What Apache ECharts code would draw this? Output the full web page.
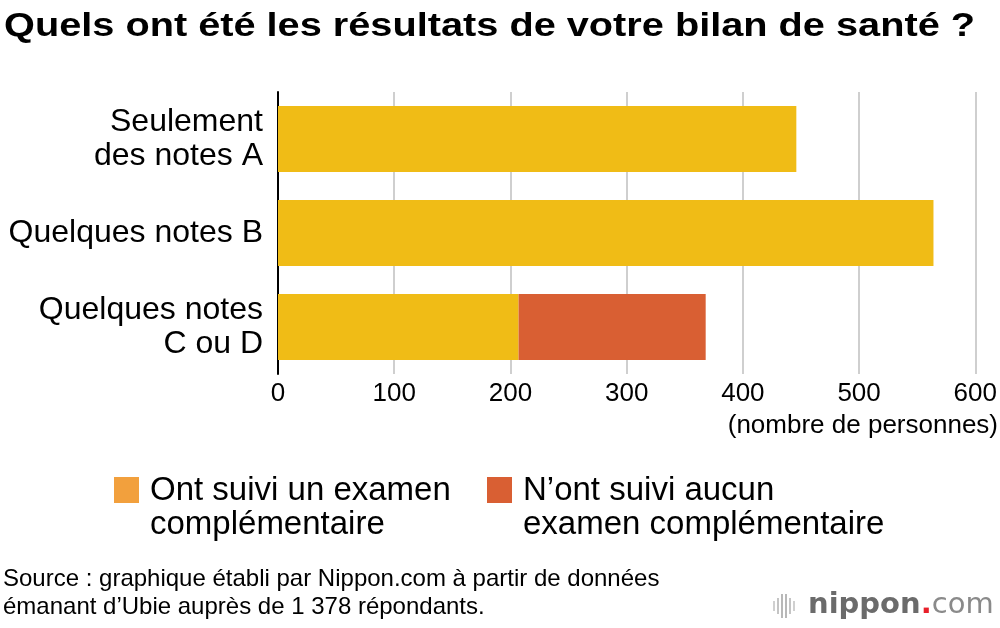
<!DOCTYPE html>
<html>
<head>
<meta charset="utf-8">
<script src="https://cdn.jsdelivr.net/npm/echarts@6/dist/echarts.min.js"></script>
<style>
html,body{margin:0;padding:0;background:#fff;}
#chart{width:1000px;height:628px;}
</style>
</head>
<body>
<div id="chart"></div>
<script>
const categories = ["Seulement\ndes notes A", "Quelques notes B", "Quelques notes\nC ou D"];
const seriesNames = ["Ont suivi un examen\ncomplémentaire", "N\u2019ont suivi aucun\nexamen complémentaire"];
const followedUp = [446, 564, 207];
const notFollowedUp = [0, 0, 161];
const xTicks = [0, 100, 200, 300, 400, 500, 600];

const FONT = '"Liberation Sans", Arial, Helvetica, sans-serif';
const chart = echarts.init(document.getElementById('chart'));
chart.setOption({
  animation: false,
  backgroundColor: '#fff',
  textStyle: { fontFamily: FONT },
  grid: { left: 278, right: 19, top: 92, bottom: 254, containLabel: false },
  xAxis: {
    type: 'value', min: xTicks[0], max: xTicks[xTicks.length - 1], interval: 100,
    axisLine: { show: false }, axisTick: { show: false },
    splitLine: { show: true, lineStyle: { color: '#cfcfcf', width: 2 } },
    axisLabel: { color: '#000', fontSize: 26, fontFamily: FONT, margin: 7 }
  },
  yAxis: {
    type: 'category', data: categories, inverse: true,
    axisLine: { show: true, lineStyle: { color: '#000', width: 2 } },
    axisTick: { show: false },
    axisLabel: { color: '#000', fontSize: 32, fontFamily: FONT, lineHeight: 34, margin: 15, align: 'right' }
  },
  series: [
    { name: seriesNames[0], type: 'bar', stack: 'a', data: followedUp, barWidth: 66,
      itemStyle: { color: '#F0BC16' } },
    { name: seriesNames[1], type: 'bar', stack: 'a', data: notFollowedUp, barWidth: 66,
      itemStyle: { color: '#D95F33' } }
  ],
  graphic: [
    { type: 'text', x: 4, y: 10, scaleX: 1.168,
      style: { text: 'Quels ont été les résultats de votre bilan de santé ?', font: 'bold 34px ' + FONT, fill: '#000', verticalAlign: 'top' } },
    { type: 'text', right: 2, top: 413,
      style: { text: '(nombre de personnes)', font: '26px ' + FONT, fill: '#000' } },
    { type: 'rect', shape: { x: 114, y: 477, width: 25, height: 26 }, style: { fill: '#F2A03D' } },
    { type: 'text', left: 150, top: 474,
      style: { text: seriesNames[0], font: '33px ' + FONT, lineHeight: 34, fill: '#000' } },
    { type: 'rect', shape: { x: 487, y: 477, width: 25, height: 26 }, style: { fill: '#D95F33' } },
    { type: 'text', left: 523, top: 474,
      style: { text: seriesNames[1], font: '33px ' + FONT, lineHeight: 34, fill: '#000' } },
    { type: 'text', left: 3, top: 565,
      style: { text: 'Source : graphique établi par Nippon.com à partir de données\némanant d\u2019Ubie auprès de 1 378 répondants.', font: '24px ' + FONT, lineHeight: 28, fill: '#000' } },
    // logo
    { type: 'rect', shape: { x: 773, y: 601, width: 2, height: 10 }, style: { fill: '#d0d0d0' } },
    { type: 'rect', shape: { x: 777, y: 598, width: 2, height: 16 }, style: { fill: '#c4c4c4' } },
    { type: 'rect', shape: { x: 781, y: 594, width: 2, height: 24 }, style: { fill: '#b8b8b8' } },
    { type: 'rect', shape: { x: 785, y: 594, width: 2, height: 24 }, style: { fill: '#b8b8b8' } },
    { type: 'rect', shape: { x: 789, y: 598, width: 2, height: 16 }, style: { fill: '#c4c4c4' } },
    { type: 'rect', shape: { x: 793, y: 601, width: 2, height: 10 }, style: { fill: '#d0d0d0' } },
    { type: 'text', x: 808, y: 605,
      style: { verticalAlign: 'middle', rich: {
        a: { font: 'bold 29px "DejaVu Sans", sans-serif', fill: '#6b6b6b' },
        b: { font: 'bold 29px "DejaVu Sans", sans-serif', fill: '#e8202a' },
        c: { font: '29px "DejaVu Sans", sans-serif', fill: '#8a8a8a' }
      }, text: '{a|nippon}{b|.}{c|com}' } }
  ]
});
</script>
</body>
</html>
